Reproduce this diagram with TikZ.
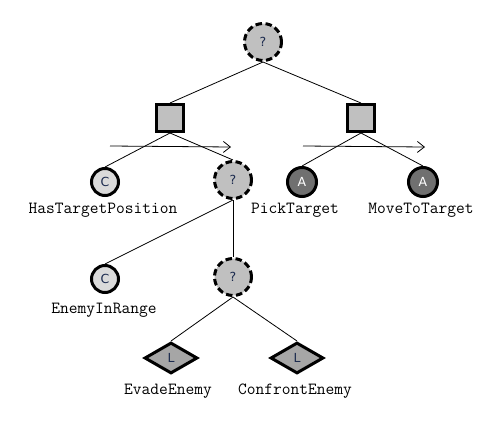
\documentclass[tikz,border=0pt]{standalone}
\usepackage{fontspec}
\newfontfamily\tagfont{DejaVu Sans}
\usetikzlibrary{arrows.meta,positioning,shapes.geometric}
\pgfdeclarelayer{bg}
\pgfsetlayers{bg,main}
\definecolor{tagtext}{HTML}{1C2B4F}
\definecolor{selfill}{HTML}{C0C0C0}
\definecolor{condfill}{HTML}{DADADA}
\definecolor{actfill}{HTML}{707070}
\definecolor{leaffill}{HTML}{A6A6A6}

\begin{document}
\begin{tikzpicture}[x=1pt,y=-1pt,
  every node/.style={inner sep=0pt},
  tagtxt/.style={font=\tagfont\fontsize{12.5pt}{14pt}\selectfont, text=tagtext},
  selector/.style={circle, draw, line width=3pt, dash pattern=on 6.5pt off 3.5pt, fill=selfill, minimum size=37pt, tagtxt},
  sequence/.style={rectangle, draw, line width=3pt, fill=selfill, minimum size=27pt},
  condition/.style={circle, draw, line width=3pt, fill=condfill, minimum size=27pt, tagtxt},
  action/.style={circle, draw, line width=3pt, fill=actfill, minimum size=29pt, tagtxt, text=white},
  leafnode/.style={diamond, draw, line width=3pt, fill=leaffill, minimum width=53pt, minimum height=31pt, aspect=1.7, tagtxt},
  treelabel/.style={anchor=base, font=\fontsize{17pt}{19pt}\ttfamily},
  order/.style={-{Straight Barb[length=7pt,width=11pt]}, line width=0.8pt}]
  \useasboundingbox (0,0) rectangle (499,426);

  % tree nodes
  \node[selector] (root) at (263,42) {?};
  \node[sequence] (seqL) at (170,118) {};
  \node[sequence] (seqR) at (361,118) {};
  \node[condition] (hasPos) at (105,182) {C};
  \node[selector] (selAttack) at (233,180) {?};
  \node[action] (pick) at (302,182) {A};
  \node[action] (move) at (423,182) {A};
  \node[condition] (inRange) at (105,279) {C};
  \node[selector] (selEnemy) at (233,277) {?};
  \node[leafnode] (evade) at (171,358) {L};
  \node[leafnode] (confront) at (297,358) {L};

  % names
  \node[treelabel] (hasPosLbl) at (103,213) {HasTargetPosition};
  \node[treelabel] (pickLbl) at (295,213) {PickTarget};
  \node[treelabel] (moveLbl) at (421,213) {MoveToTarget};
  \node[treelabel] (inRangeLbl) at (104,313) {EnemyInRange};
  \node[treelabel] (evadeLbl) at (168,394) {EvadeEnemy};
  \node[treelabel] (confrontLbl) at (295,394) {ConfrontEnemy};

  % order arrows
  \coordinate (ordL1) at (110,146);
  \coordinate (ordL2) at (231,147);
  \coordinate (ordR1) at (303,146);
  \coordinate (ordR2) at (425,147);
  \draw[order] (ordL1) -- (ordL2);
  \draw[order] (ordR1) -- (ordR2);

  \begin{pgfonlayer}{bg}
    \draw[line width=0.8pt] (root.south) -- (seqL.north);
    \draw[line width=0.8pt] (root.south) -- (seqR.north);
    \draw[line width=0.8pt] (seqL.south) -- (hasPos.north);
    \draw[line width=0.8pt] (seqL.south) -- (selAttack.north);
    \draw[line width=0.8pt] (seqR.south) -- (pick.north);
    \draw[line width=0.8pt] (seqR.south) -- (move.north);
    \draw[line width=0.8pt] (selAttack.south) -- (inRange.north);
    \draw[line width=0.8pt] (selAttack.south) -- (selEnemy.north);
    \draw[line width=0.8pt] (selEnemy.south) -- (evade.north);
    \draw[line width=0.8pt] (selEnemy.south) -- (confront.north);
  \end{pgfonlayer}
\end{tikzpicture}
\end{document}
